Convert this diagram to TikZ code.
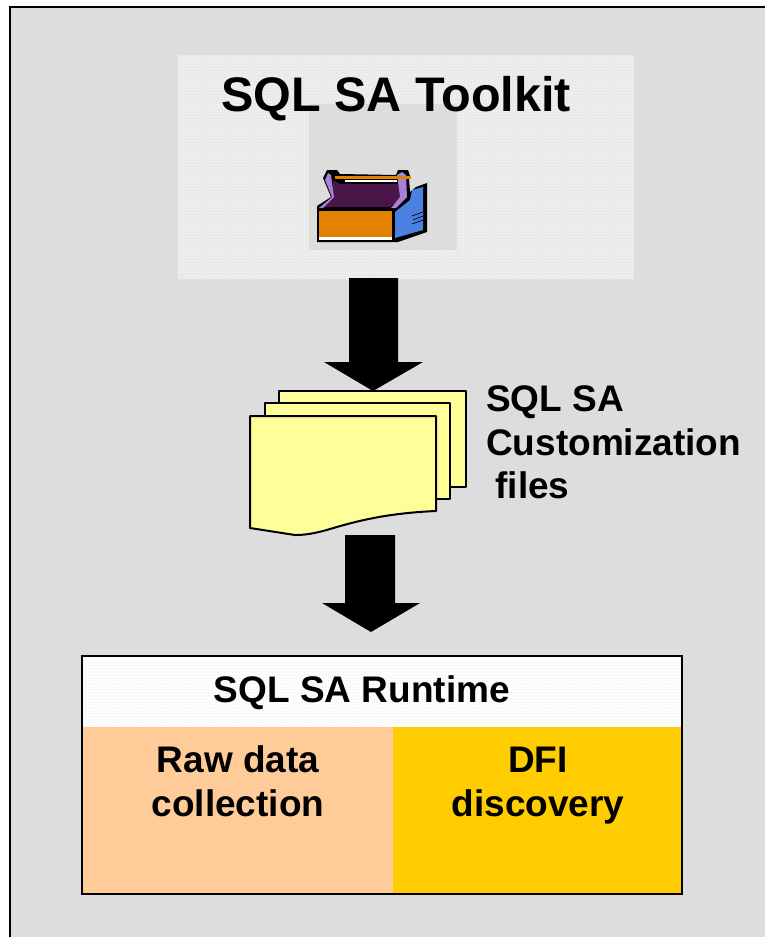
\documentclass[tikz,border=0pt]{standalone}
\usepackage{fontspec}
\setmainfont{Liberation Sans}
\usetikzlibrary{patterns}
\definecolor{panelgray}{HTML}{DDDDDD}
\definecolor{dotbgA}{HTML}{E9E9E9}
\definecolor{dotbgB}{HTML}{F8F8F8}
\definecolor{paper}{HTML}{FFFF99}
\definecolor{peach}{HTML}{FFCC99}
\definecolor{amber}{HTML}{FFCC00}
\definecolor{boxorange}{HTML}{E38100}
\definecolor{boxblue}{HTML}{4A80E0}
\definecolor{boxdark}{HTML}{4A1548}
\definecolor{boxlilac}{HTML}{A880D8}
\tikzset{
  x=1pt,y=-1pt,
  edgeline/.style={draw=black,line width=2pt},
  title/.style={font=\bfseries\fontsize{48.5}{52}\selectfont,inner sep=0pt,anchor=base},
  label/.style={font=\bfseries\fontsize{37}{44}\selectfont,inner sep=0pt,anchor=base west},
  clabel/.style={font=\bfseries\fontsize{37}{44}\selectfont,inner sep=0pt,anchor=base},
  sheet/.style={fill=paper,draw=black,line width=2pt,line join=round},
  bigarrow/.style={fill=black,draw=none},
}
\begin{document}
\begin{tikzpicture}
\useasboundingbox (0,0) rectangle (765,937);
\fill[white] (0,0) rectangle (765,937);
\fill[panelgray] (10,7) rectangle (765,937);
\draw[edgeline] (10,937) -- (10,7) -- (765,7);
% toolkit backdrop
\fill[dotbgA] (178,55) rectangle (634,279);
\fill[pattern=crosshatch dots,pattern color=white!80!dotbgA] (178,55) rectangle (634,279);
\fill[panelgray] (309,104) rectangle (457,250);
\node[title] (toolkit) at (396,111) {SQL SA Toolkit};
% toolbox icon
\fill[black] (317,206) -- (317,242) -- (398,242) -- (427,232) -- (427,183) -- (416,187) -- (410,192) -- (409,178) -- (410,176) -- (408,170) -- (398,170) -- (396,175) -- (340,174) -- (337,170) -- (327,170) -- (323,178) -- (331,197) -- cycle;
\fill[white] (319,236.5) rectangle (392,240);
\fill[boxorange] (319,211) rectangle (392,236.5);
\fill[boxblue] (395,212) -- (410,200) -- (412,190) -- (423,187) -- (423,230) -- (395,238) -- cycle;
\draw[black,line width=0.7pt] (412,216) -- (423,212) (413,220) -- (423,216) (412,224) -- (423,220);
\fill[boxdark] (323,207) -- (333,198) -- (333,180) -- (340,184) -- (398,184) -- (400,198) -- (390,207) -- cycle;
\fill[boxlilac] (319,208) -- (332,197) -- (325,180) -- (328,173) -- (331,175) -- (334,197) -- (323,208) -- cycle;
\fill[boxlilac] (391,208) -- (400,197) -- (397,175) -- (402,172) -- (406,175) -- (407,197) -- (396,208) -- cycle;
\fill[boxorange] (335,176) rectangle (411,178.5);
\fill[white] (345,179.5) rectangle (397,182);
% arrow 1
\fill[bigarrow] (349,278) -- (398,278) -- (398,362) -- (423,362) -- (373,391) -- (324,362) -- (349,362) -- cycle;
% document stack
\path[sheet] (279,391) rectangle (466,487);
\path[sheet] (265,403) rectangle (450,499);
\path[sheet] (250,416) -- (436,416) -- (436,511) .. controls (390,513) and (360,520) .. (330,529) .. controls (310,535) and (300,535) .. (295,535) -- (250,528) -- cycle;
\node[label] (custA) at (486,411) {SQL SA};
\node[label] (custB) at (486,455.5) {Customization};
\node[label] (custC) at (485,498) {\ files};
% arrow 2
\fill[bigarrow] (345,535) -- (395,535) -- (395,603) -- (420,603) -- (371,632) -- (322,603) -- (345,603) -- cycle;
% runtime box
\fill[dotbgB] (82,656) rectangle (682,727);
\fill[pattern=grid,pattern color=white] (82,656) rectangle (682,727);
\fill[peach] (82,727) rectangle (393,894);
\fill[amber] (393,727) rectangle (682,894);
\draw[edgeline] (82,656) rectangle (682,894);
\node[clabel] (rt) at (362,702) {SQL SA Runtime};
\node[clabel] (rawA) at (238,772) {Raw data};
\node[clabel] (rawB) at (238,816) {collection};
\node[clabel] (dfiA) at (538,772) {DFI};
\node[clabel] (dfiB) at (538,816) {discovery};
\end{tikzpicture}
\end{document}
